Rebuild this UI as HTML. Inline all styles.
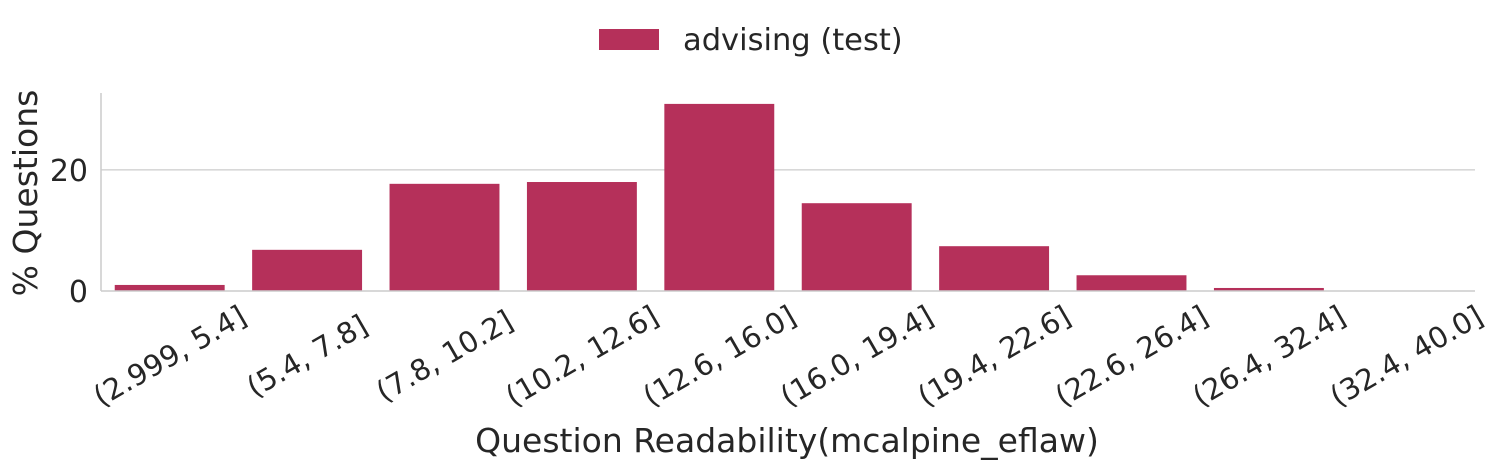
<!DOCTYPE html>
<html><head><meta charset="utf-8"><style>
html,body{margin:0;padding:0;background:#fff}
svg{display:block;font-family:"DejaVu Sans","Liberation Sans",sans-serif;fill:#262626}
</style></head><body>
<svg id="chart" width="1500" height="468" viewBox="0 0 1500 468">
<g id="grid"></g><g id="bars"></g><g id="axes"></g>
<g>
<rect x="599" y="29" width="60" height="21" fill="#b5305a"/>
<text x="683" y="50" font-size="30.5">advising (test)</text>
</g>
<text transform="translate(37,193) rotate(-90)" text-anchor="middle" font-size="33">% Questions</text>
<text x="787" y="452" text-anchor="middle" font-size="33">Question Readability(mcalpine_eflaw)</text>
</svg>
<script>
const categories=["(2.999, 5.4]","(5.4, 7.8]","(7.8, 10.2]","(10.2, 12.6]","(12.6, 16.0]","(16.0, 19.4]","(19.4, 22.6]","(22.6, 26.4]","(26.4, 32.4]","(32.4, 40.0]"];
const values=[1.0,6.8,17.7,18.0,30.9,14.5,7.4,2.6,0.5,0];
const yTicks=[0,20];
const NS="http://www.w3.org/2000/svg";
const x0=101,x1=1475,yBase=291,yTop=93,yMax=32.7;
const step=(x1-x0)/categories.length;
const xC=i=>x0+step*(i+0.5);
const y=v=>yBase-(v/yMax)*(yBase-yTop);
function mk(tag,attrs,parent){const e=document.createElementNS(NS,tag);for(const k in attrs)e.setAttribute(k,attrs[k]);parent.appendChild(e);return e;}
const grid=document.getElementById('grid'),bars=document.getElementById('bars'),axes=document.getElementById('axes');
yTicks.forEach(t=>{
 if(t>0){const l=mk('line',{x1:x0,x2:x1,y1:y(t),y2:y(t),stroke:'#cccccc','stroke-width':1.2},grid);
 
 }
 const tx=mk('text',{x:88,y:y(t)+11,'text-anchor':'end','font-size':30},axes);tx.textContent=t;
 
 
});
values.forEach((v,i)=>{
 const w=step*0.8;
 const r=mk('rect',{x:xC(i)-w/2,y:y(v),width:w,height:yBase-y(v),fill:'#b5305a'},bars);
 
 
 const t=mk('text',{'text-anchor':'middle','dominant-baseline':'central','font-size':29,transform:`translate(${xC(i)},356) rotate(-30)`},axes);
 t.textContent=categories[i];
 
 
});
const s1=mk('line',{x1:x0,x2:x0,y1:yTop,y2:yBase,stroke:'#cccccc','stroke-width':1.5},axes);


const s2=mk('line',{x1:x0,x2:x1,y1:yBase,y2:yBase,stroke:'#cccccc','stroke-width':1.5},axes);


</script>
</body></html>
